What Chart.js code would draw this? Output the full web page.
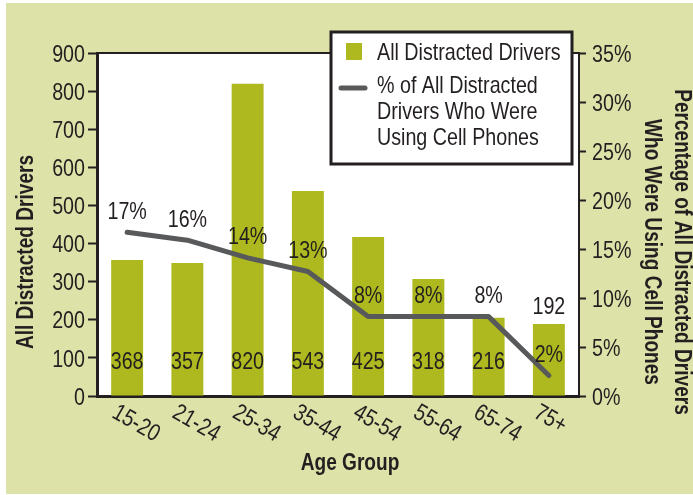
<!DOCTYPE html>
<html>
<head>
<meta charset="utf-8">
<script src="https://cdn.jsdelivr.net/npm/chart.js@4.4.0/dist/chart.umd.min.js"></script>
<style>
  html, body { margin: 0; padding: 0; background: #fff; }
  #wrap { position: relative; width: 693px; height: 495px; }
</style>
</head>
<body>
<div id="wrap"><canvas id="chart" width="693" height="495"></canvas></div>
<script>
// ---- data ----
const ageGroups = ["15-20", "21-24", "25-34", "35-44", "45-54", "55-64", "65-74", "75+"];
const driverCounts = [357, 349, 819, 538, 417, 307, 205, 189]; // bar heights as drawn
const driverLabels = ["368", "357", "820", "543", "425", "318", "216", "192"];
const cellPhonePct = [16.7, 15.9, 14.1, 12.7, 8.1, 8.1, 8.1, 2.1];
const pctLabels = ["17%", "16%", "14%", "13%", "8%", "8%", "8%", "2%"];

const legendBarText = "All Distracted Drivers";
const legendLineText = ["% of All Distracted", "Drivers Who Were", "Using Cell Phones"];
const leftTitle = "All Distracted Drivers";
const rightTitle = ["Percentage of All Distracted Drivers", "Who Were Using Cell Phones"];
const xTitle = "Age Group";

// ---- look ----
// no narrow font installed, so Liberation Sans is squeezed sideways instead
const FONT = "'Liberation Sans', Arial, sans-serif";
const INK = "#231f20";
const BAR = "#adb91e";
const LINE = "#58595b";
const BG = "#dde2a8";
const CLEAR = "rgba(0,0,0,0)";

function text(ctx, str, x, y, opts = {}) {
  ctx.save();
  ctx.font = `${opts.bold ? "bold " : ""}${opts.size || 24}px ${FONT}`;
  ctx.fillStyle = INK;
  ctx.textAlign = opts.align || "center";
  ctx.textBaseline = "middle";
  ctx.translate(x, y);
  if (opts.rot) ctx.rotate(opts.rot);
  ctx.scale(opts.squeeze || 0.82, 1);
  ctx.fillText(str, 0, 0);
  ctx.restore();
}

const decor = {
  id: "decor",
  beforeDraw(chart) {
    const { ctx, chartArea: a } = chart;
    ctx.save();
    ctx.fillStyle = "#fff";
    ctx.fillRect(0, 0, chart.width, chart.height);
    ctx.fillStyle = BG;
    ctx.fillRect(6, 3, chart.width - 6, chart.height - 4);
    ctx.fillStyle = "#fff";
    ctx.fillRect(a.left, a.top, a.right - a.left, a.bottom - a.top);
    ctx.restore();
  },
  afterDatasetsDraw(chart) {
    const bars = chart.getDatasetMeta(0).data;
    const pts = chart.getDatasetMeta(1).data;
    const base = chart.scales.y.getPixelForValue(0);
    bars.forEach((bar, i) => {
      const pctY = pts[i].y - 20;
      let countY = base - 34;
      // count goes above the bar when the % label sits on top of it
      if (Math.abs(pctY - countY) < 24) countY = bar.y - 17;
      text(chart.ctx, driverLabels[i], bar.x, countY);
      text(chart.ctx, pctLabels[i], pts[i].x, pctY);
    });
  },
  afterDraw(chart) {
    const { ctx, chartArea: a, scales } = chart;
    // top border of plot
    ctx.save();
    ctx.strokeStyle = INK;
    ctx.lineWidth = 2;
    ctx.beginPath();
    ctx.moveTo(a.left, a.top);
    ctx.lineTo(a.right, a.top);
    ctx.stroke();
    ctx.restore();

    // tick labels
    scales.y.ticks.forEach((t) => {
      text(ctx, String(t.value), a.left - 12, scales.y.getPixelForValue(t.value) + 2, { align: "right" });
    });
    scales.y1.ticks.forEach((t) => {
      text(ctx, `${t.value}%`, a.right + 13, scales.y1.getPixelForValue(t.value) + 2, { align: "left" });
    });
    ageGroups.forEach((g, i) => {
      text(ctx, g, scales.x.getPixelForValue(i) - 13, 411, { align: "left", rot: Math.PI / 6 });
    });

    // axis titles
    const bold = { bold: true, size: 23, squeeze: 0.83 };
    text(ctx, xTitle, 350, 464, bold);
    text(ctx, leftTitle, 27, 252, { ...bold, rot: -Math.PI / 2 });
    text(ctx, rightTitle[0], 681, 252, { ...bold, rot: Math.PI / 2 });
    text(ctx, rightTitle[1], 651, 252, { ...bold, rot: Math.PI / 2 });

    // legend box
    ctx.save();
    ctx.fillStyle = "#fff";
    ctx.fillRect(331, 32, 241, 132);
    ctx.strokeStyle = INK;
    ctx.lineWidth = 3;
    ctx.strokeRect(331, 32, 241, 132);
    ctx.fillStyle = BAR;
    ctx.fillRect(346, 43, 16, 17);
    ctx.strokeStyle = LINE;
    ctx.lineWidth = 5;
    ctx.lineCap = "round";
    ctx.beginPath();
    ctx.moveTo(341, 88);
    ctx.lineTo(365, 88);
    ctx.stroke();
    ctx.restore();
    text(ctx, legendBarText, 377, 53, { align: "left" });
    legendLineText.forEach((t, i) => text(ctx, t, 377, 86 + i * 26, { align: "left" }));
  }
};

new Chart(document.getElementById("chart"), {
  data: {
    labels: ageGroups,
    datasets: [
      {
        type: "bar",
        label: legendBarText,
        data: driverCounts,
        backgroundColor: BAR,
        yAxisID: "y",
        categoryPercentage: 1,
        barPercentage: 0.53,
        order: 1,
      },
      {
        type: "line",
        label: legendLineText.join(" "),
        data: cellPhonePct,
        borderColor: LINE,
        borderWidth: 5,
        borderCapStyle: "round",
        borderJoinStyle: "round",
        pointRadius: 0,
        tension: 0,
        yAxisID: "y1",
        order: 0,
      },
    ],
  },
  options: {
    responsive: false,
    devicePixelRatio: 1,
    animation: false,
    font: { family: FONT, size: 24 },
    layout: { padding: { top: 53, left: 0, right: 0, bottom: 0 } },
    plugins: { legend: { display: false }, tooltip: { enabled: false } },
    scales: {
      x: {
        grid: { display: false },
        border: { color: INK, width: 3 },
        ticks: { display: false },
        afterFit(s) { s.height = 99; },
      },
      y: {
        position: "left",
        min: 0,
        max: 900,
        ticks: { stepSize: 100, color: CLEAR, padding: 3, font: { size: 24 } },
        grid: { drawOnChartArea: false, tickLength: 9, color: INK, tickWidth: 2 },
        border: { color: INK, width: 3 },
        afterFit(s) { s.width = 97; },
      },
      y1: {
        position: "right",
        min: 0,
        max: 35,
        ticks: { stepSize: 5, color: CLEAR, padding: 5, font: { size: 24 } },
        grid: { drawOnChartArea: false, tickLength: 7, color: INK, tickWidth: 2 },
        border: { color: INK, width: 2 },
        afterFit(s) { s.width = 114; },
      },
    },
  },
  plugins: [decor],
});
</script>
</body>
</html>
